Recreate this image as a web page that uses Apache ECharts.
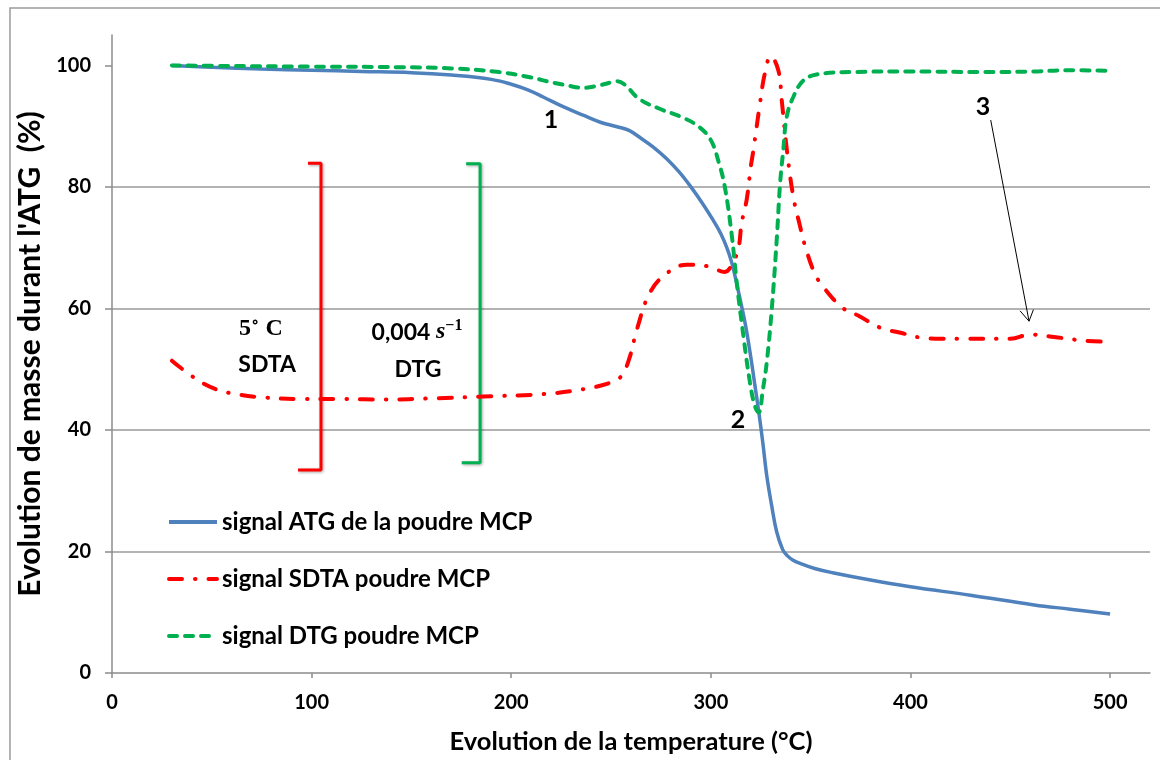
<!DOCTYPE html>
<html>
<head>
<meta charset="utf-8">
<script src="https://cdn.jsdelivr.net/npm/echarts@6/dist/echarts.min.js"></script>
<style>
html,body{margin:0;padding:0;background:#fff;}
#chart{width:1169px;height:760px;}
</style>
</head>
<body>
<div id="chart"></div>
<script>
// ---- data (temperature °C, value %) ----
const xTicks = [0, 100, 200, 300, 400, 500];
const yTicks = [0, 20, 40, 60, 80, 100];

const seriesNames = ['signal ATG de la poudre MCP', 'signal SDTA poudre MCP', 'signal DTG poudre MCP'];

const atg = [[30,100],[50,99.7],[75,99.4],[100,99.2],[125,99.0],[150,98.8],[170,98.4],[190,97.7],[200,96.9],[208,96.0],[216,94.8],[226,93.2],[236,91.8],[245,90.6],[253,89.9],[259,89.3],[265,88.0],[271,86.6],[278,84.6],[284,82.5],[290,80.0],[296,77.2],[301,74.6],[305,72.3],[308,70],[310.5,67.5],[313,64],[315,61],[317.5,57],[320,52],[322,47.5],[324,43],[326,38],[328,32.5],[330.5,27.5],[333,23.2],[336,20.3],[338,19.4],[341,18.6],[345,18.0],[352,17.2],[361,16.5],[380,15.3],[400,14.2],[430,12.8],[462,11.2],[480,10.5],[500,9.7]];

const sdta = [[30,51.4],[42,48.4],[52,46.7],[62,45.9],[74,45.4],[94,45.1],[116,45.1],[136,45.0],[161,45.2],[186,45.5],[216,45.9],[236,46.7],[250,47.8],[255,48.8],[259,51.6],[263,56.6],[269.5,62.6],[278,65.8],[288,67.2],[299,66.9],[307,66.0],[310.5,67.2],[313.8,69.9],[315.4,74],[318,78],[320,83.3],[321.2,85.8],[324.6,93.7],[327,98.6],[330,101.5],[333.8,99.2],[335.5,94.3],[338,86.3],[341.3,78.4],[344.7,73.5],[347,70.5],[352,65.8],[356.4,63.5],[366,60.1],[374,58.8],[385,56.8],[395,56],[405,55.2],[416,55],[428,55],[450,55],[460,55.7],[472,55.3],[487,54.7],[500,54.5]];

const dtg = [[30,100],[60,99.9],[100,99.8],[144,99.7],[170,99.5],[194,98.9],[210,98.0],[219,97.3],[228,96.7],[236,96.3],[244,96.7],[250,97.2],[253,97.4],[257,96.8],[264,94.5],[274,92.9],[286,91.4],[294,89.9],[300,87.7],[304,84],[307,80],[310.5,72],[313,64.2],[316.3,55.5],[319.6,47.8],[322,44],[324,42.9],[326,46.5],[328,51.1],[330.5,59.8],[333,71.3],[334.7,80.6],[336.3,86.1],[338,91.5],[341.3,94.8],[346.3,97.5],[353,98.5],[370,98.9],[400,99.0],[437,98.9],[462,99.0],[478,99.2],[500,99.1]];

// scale brackets (data coordinates)
const redBracket = [[98.2,83.9],[104.7,83.9],[104.7,33.4],[93.2,33.4]];
const greenBracket = [[177.4,83.8],[184.4,83.8],[184.4,34.6],[175.2,34.6]];

// arrow for label "3"
const arrowLine = [[440.2,91.0],[459.4,57.9]];
const arrowHeadL = [[454.9,59.6],[459.4,57.9]];
const arrowHeadR = [[461.6,59.8],[459.4,57.9]];

// text annotations: [x, y, text]
const annotations = [
  [219.9, 91.0, '{b|1}'],
  [313.6, 41.6, '{b|2}'],
  [436.4, 93.1, '{b|3}'],
  [74.6, 56.6, '{m|5}{sup|∘}{m| C}'],
  [77.7, 50.7, '{t|SDTA}'],
  [152.8, 56.1, '{n|0,004 }{s|s}{sup|−1}'],
  [153.3, 50.0, '{t|DTG}']
];

const FONT = 'Lato, "Open Sans", sans-serif';
const SERIF = '"Liberation Serif", "DejaVu Serif", serif';

const chart = echarts.init(document.getElementById('chart'));

const noBorder = { textBorderWidth: 0, textBorderColor: 'transparent', textShadowBlur: 0 };

const option = {
  animation: false,
  backgroundColor: '#ffffff',
  grid: { left: 112, right: 19, top: 35, bottom: 85, containLabel: false },
  graphic: [{
    type: 'polyline',
    shape: { points: [[10, 800], [10, 8], [1160, 8]] },
    style: { stroke: '#9a9a9a', lineWidth: 1.5, fill: null },
    silent: true
  }],
  legend: {
    data: seriesNames,
    orient: 'vertical',
    left: 162,
    top: 505,
    itemWidth: 48,
    itemHeight: 24,
    itemGap: 33,
    itemStyle: { opacity: 0 },
    lineStyle: { width: 4 },
    textStyle: { fontFamily: FONT, fontWeight: 'bold', fontSize: 24, color: '#000' }
  },
  xAxis: {
    type: 'value',
    min: 0, max: 520, interval: 100,
    name: 'Evolution de la temperature (°C)',
    nameLocation: 'middle',
    nameGap: 56,
    nameTextStyle: { fontFamily: FONT, fontWeight: 'bold', fontSize: 25.5, color: '#000' },
    axisLine: { show: true, lineStyle: { color: '#8c8c8c', width: 1.5 } },
    axisTick: { show: true, length: 5, customValues: xTicks, lineStyle: { color: '#8c8c8c', width: 1.5 } },
    axisLabel: { customValues: xTicks, margin: 20, fontFamily: FONT, fontWeight: 'bold', fontSize: 20, color: '#000' },
    splitLine: { show: false }
  },
  yAxis: {
    type: 'value',
    min: 0, max: 105, interval: 20,
    name: "Evolution de masse durant l'ATG  (%)",
    nameLocation: 'middle',
    nameGap: 55,
    nameRotate: 90,
    nameTextStyle: { fontFamily: FONT, fontWeight: 'bold', fontSize: 30, color: '#000' },
    axisLine: { show: true, lineStyle: { color: '#8c8c8c', width: 1.5 } },
    axisTick: { show: true, length: 7, customValues: yTicks, lineStyle: { color: '#8c8c8c', width: 1.5 } },
    axisLabel: { customValues: yTicks, margin: 21, fontFamily: FONT, fontWeight: 'bold', fontSize: 20, color: '#000' },
    splitLine: { show: true, showMinLine: false, showMaxLine: false, lineStyle: { color: '#9a9a9a', width: 1.5 } }
  },
  series: [
    {
      name: seriesNames[0], type: 'line', data: atg, symbol: 'none', smooth: 0.4,
      lineStyle: { color: '#4F81BD', width: 3.5 }, itemStyle: { color: '#4F81BD' }, z: 3
    },
    {
      name: seriesNames[1], type: 'line', data: sdta, symbol: 'none', smooth: 0.4,
      lineStyle: { color: '#FF0000', width: 4, type: [13, 13, 0.5, 13], cap: 'round' }, itemStyle: { color: '#FF0000' }, z: 4
    },
    {
      name: seriesNames[2], type: 'line', data: dtg, symbol: 'none', smooth: 0.4,
      lineStyle: { color: '#00B050', width: 4, type: [8, 8], cap: 'round' }, itemStyle: { color: '#00B050' }, z: 5
    },
    {
      name: 'redBracket', type: 'line', data: redBracket, symbol: 'none', silent: true,
      lineStyle: { color: '#FF0000', width: 3, shadowBlur: 3, shadowColor: 'rgba(0,0,0,0.35)', shadowOffsetX: 1, shadowOffsetY: 1 }, z: 2
    },
    {
      name: 'greenBracket', type: 'line', data: greenBracket, symbol: 'none', silent: true,
      lineStyle: { color: '#00B050', width: 3, shadowBlur: 3, shadowColor: 'rgba(0,0,0,0.35)', shadowOffsetX: 1, shadowOffsetY: 1 }, z: 2
    },
    {
      name: 'arrow', type: 'line', data: arrowLine, symbol: 'none', silent: true,
      lineStyle: { color: '#000', width: 1 }, z: 6
    },
    {
      name: 'arrowL', type: 'line', data: arrowHeadL, symbol: 'none', silent: true,
      lineStyle: { color: '#000', width: 1 }, z: 6
    },
    {
      name: 'arrowR', type: 'line', data: arrowHeadR, symbol: 'none', silent: true,
      lineStyle: { color: '#000', width: 1 }, z: 6
    },
    {
      name: 'annotations', type: 'scatter', silent: true, symbolSize: 1,
      itemStyle: { opacity: 0 },
      data: annotations.map(a => ({ value: [a[0], a[1]], label: { formatter: a[2] } })),
      label: Object.assign({
        show: true, position: 'inside', color: '#000', opacity: 1,
        rich: {
          b: Object.assign({ fontFamily: FONT, fontWeight: 'bold', fontSize: 25, color: '#000' }, noBorder),
          t: Object.assign({ fontFamily: FONT, fontWeight: 'bold', fontSize: 23, color: '#000' }, noBorder),
          n: Object.assign({ fontFamily: FONT, fontWeight: 'bold', fontSize: 23, color: '#000' }, noBorder),
          m: Object.assign({ fontFamily: SERIF, fontWeight: 'bold', fontSize: 24, color: '#000' }, noBorder),
          s: Object.assign({ fontFamily: SERIF, fontStyle: 'italic', fontWeight: 'bold', fontSize: 24, color: '#000' }, noBorder),
          sup: Object.assign({ fontFamily: SERIF, fontWeight: 'bold', fontSize: 16, color: '#000', verticalAlign: 'top', padding: [0, 0, 12, 0] }, noBorder)
        }
      }, noBorder),
      z: 7
    }
  ]
};

chart.setOption(option);
</script>
</body>
</html>
